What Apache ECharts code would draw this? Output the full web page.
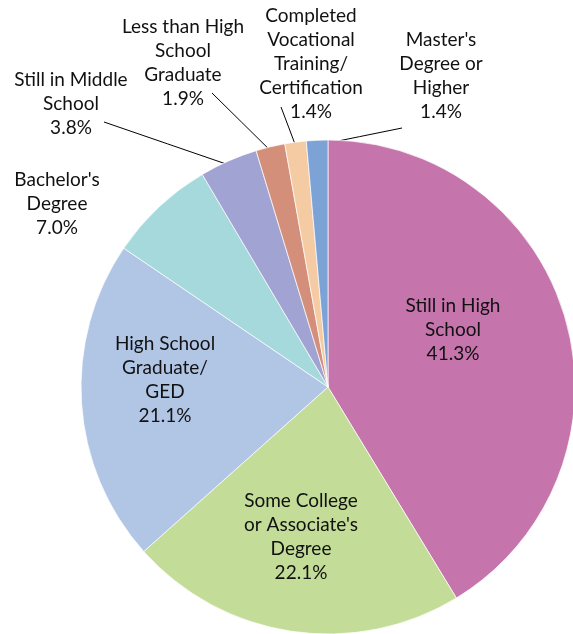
<!DOCTYPE html>
<html>
<head>
<meta charset="utf-8">
<script src="https://cdn.jsdelivr.net/npm/echarts@6/dist/echarts.min.js"></script>
<style>
    html, body { margin: 0; padding: 0; background: #fff; }
    #chart { width: 573px; height: 634px; }
</style>
</head>
<body>
<div id="chart"></div>
<script>
// slices, clockwise from 12 o'clock
var categories = [
    'Still in High\nSchool',
    'Some College\nor Associate\'s\nDegree',
    'High School\nGraduate/\nGED',
    'Bachelor\'s\nDegree',
    'Still in Middle\nSchool',
    'Less than High\nSchool\nGraduate',
    'Completed\nVocational\nTraining/\nCertification',
    'Master\'s\nDegree or\nHigher'
];
var percents = [41.3, 22.1, 21.1, 7.0, 3.8, 1.9, 1.4, 1.4];
var colors = ['#C574AC', '#C3DC97', '#B1C5E5', '#A6D9DC', '#A1A4D3', '#D38F7A', '#F4CBA3', '#7DA3D6'];

// label centres (px) and where the leader line meets the label (offset from centre)
var labelPos = [
    [453, 330], [301, 537], [165, 380], [57, 204],
    [71, 104], [183, 63], [311, 64], [441, 76]
];
var lineEnd = [null, null, null, null, [33, 18], [29, 30], [-30, 43], [-39, 52]];

var cx = 328, cy = 387, r = 247;

var data = [];
for (var i = 0; i < percents.length; i++) {
    data.push({
        name: categories[i],
        value: percents[i],
        itemStyle: { color: colors[i] },
        labelLine: { show: lineEnd[i] != null }
    });
}

var myChart = echarts.init(document.getElementById('chart'));

var option = {
    animation: false,
    series: [{
        type: 'pie',
        center: [cx, cy],
        radius: r,
        startAngle: 90,
        clockwise: true,
        avoidLabelOverlap: false,
        data: data,
        itemStyle: { borderColor: '#fff', borderWidth: 0.7 },
        label: {
            show: true,
            position: 'outside',
            formatter: function (p) {
                return p.name + '\n' + p.value.toFixed(1) + '%';
            },
            fontFamily: 'Lato',
            fontSize: 19,
            lineHeight: 24,
            color: '#111',
            align: 'center',
            overflow: 'none'
        },
        labelLine: {
            show: true,
            lineStyle: { color: '#000', width: 1 }
        },
        labelLayout: function (params) {
            var i = params.dataIndex;
            var pos = labelPos[i];
            var out = { x: pos[0], y: pos[1], align: 'center', verticalAlign: 'middle' };
            if (lineEnd[i] && params.labelLinePoints) {
                // start a little inside the slice edge
                var p0 = params.labelLinePoints[0];
                var dx = p0[0] - cx, dy = p0[1] - cy;
                var d = Math.sqrt(dx * dx + dy * dy);
                var s = (d - 5) / d;
                var a = [cx + dx * s, cy + dy * s];
                var b = [pos[0] + lineEnd[i][0], pos[1] + lineEnd[i][1]];
                out.labelLinePoints = [a, [(a[0] + b[0]) / 2, (a[1] + b[1]) / 2], b];
            }
            return out;
        }
    }]
};

myChart.setOption(option);
</script>
</body>
</html>
